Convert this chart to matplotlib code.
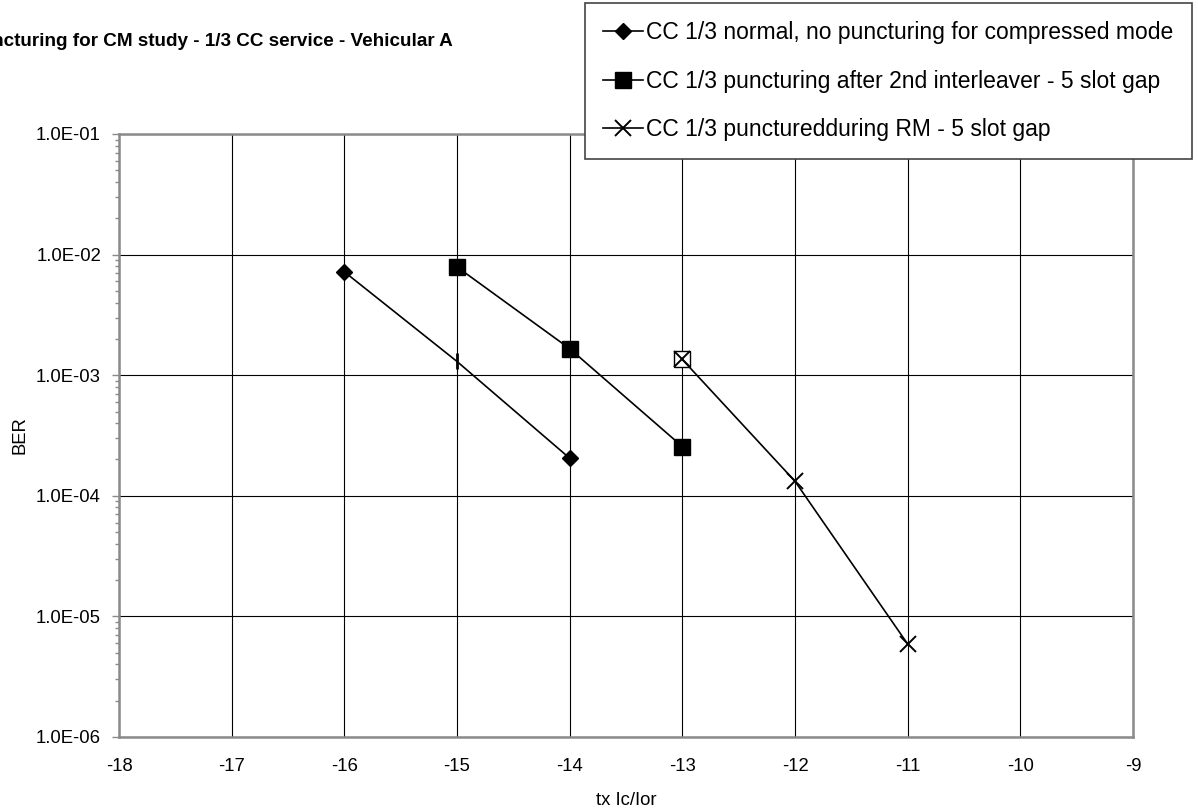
# BER vs tx Ic/Ior, puncturing for compressed mode study
import numpy as np
import matplotlib.pyplot as plt
from matplotlib.ticker import FuncFormatter, LogLocator

plt.rcParams['font.family'] = ['Liberation Sans', 'DejaVu Sans']
plt.rcParams['axes.unicode_minus'] = False

title = 'Puncturing for CM study - 1/3 CC service - Vehicular A'

x_norm   = [-16, -15, -14]
ber_norm = [7.2e-3, 1.30e-3, 2.05e-4]

x_int2   = [-15, -14, -13]
ber_int2 = [7.9e-3, 1.66e-3, 2.56e-4]

x_rm     = [-13, -12, -11]
ber_rm   = [1.35e-3, 1.32e-4, 5.9e-6]

labels = ['CC 1/3 normal, no puncturing for compressed mode',
          'CC 1/3 puncturing after 2nd interleaver - 5 slot gap',
          'CC 1/3 puncturedduring RM - 5 slot gap']

fig = plt.figure(figsize=(11.98, 8.09), dpi=100)
ax = fig.add_axes([119/1198, 72/809, 1014/1198, 603/809])

lw = 1.2
l1, = ax.plot(x_norm, ber_norm, color='k', lw=lw, marker='D', ms=8.5,
              markevery=[0, 2], label=labels[0], zorder=3)
# odd marker on the middle point, as in the original sheet
ax.plot(x_norm[1:2], ber_norm[1:2], ls='none', marker='|', ms=12, mew=2,
        color='k', zorder=3)
l2, = ax.plot(x_int2, ber_int2, color='k', lw=lw, marker='s', ms=12,
              label=labels[1], zorder=3)
ax.plot(x_rm[:1], ber_rm[:1], ls='none', marker='s', ms=12, mfc='white',
        mec='k', mew=1, zorder=3)
l3, = ax.plot(x_rm, ber_rm, color='k', lw=lw, marker='x', ms=12, mew=1.4,
              label=labels[2], zorder=4)

ax.set_yscale('log')
ax.set_xlim(-18, -9)
ax.set_ylim(1e-6, 1e-1)
ax.set_xticks(np.arange(-18, -8, 1))
ax.yaxis.set_major_locator(LogLocator(base=10, numticks=10))
ax.yaxis.set_minor_locator(LogLocator(base=10, subs=np.arange(2, 10), numticks=10))
ax.yaxis.set_major_formatter(FuncFormatter(lambda v, p: f'{v:.1E}'))

ax.grid(True, which='major', color='k', lw=0.8)
for s in ax.spines.values():
    s.set_color('#8a8a8a')
    s.set_linewidth(1.8)

ax.tick_params(axis='x', length=0, pad=15, labelsize=13.3)
ax.tick_params(axis='y', which='major', length=5, width=1, color='#8a8a8a',
               pad=8, labelsize=13.3)
ax.tick_params(axis='y', which='minor', length=3, width=1, color='#8a8a8a')

ax.set_xlabel('tx Ic/Ior', fontsize=13.3, labelpad=12.5)
ax.set_ylabel('BER', fontsize=13.3, labelpad=5)

# the sheet's title runs off the left edge, as in the source picture
fig.text(453/1198, 1 - 42/809, title, ha='right', va='center',
         fontsize=13.6, fontweight='bold')

leg = ax.legend(handles=[l1, l2, l3], loc='upper right',
                bbox_to_anchor=(1192/1198, 1 - 3/809),
                bbox_transform=fig.transFigure, fontsize=16.5,
                fancybox=False, framealpha=1, edgecolor='#444444',
                borderpad=0.8, labelspacing=1.1, handlelength=1.75,
                handletextpad=0.15, borderaxespad=0)
leg.get_frame().set_linewidth(1.2)

fig.savefig('out.png', dpi=100)
